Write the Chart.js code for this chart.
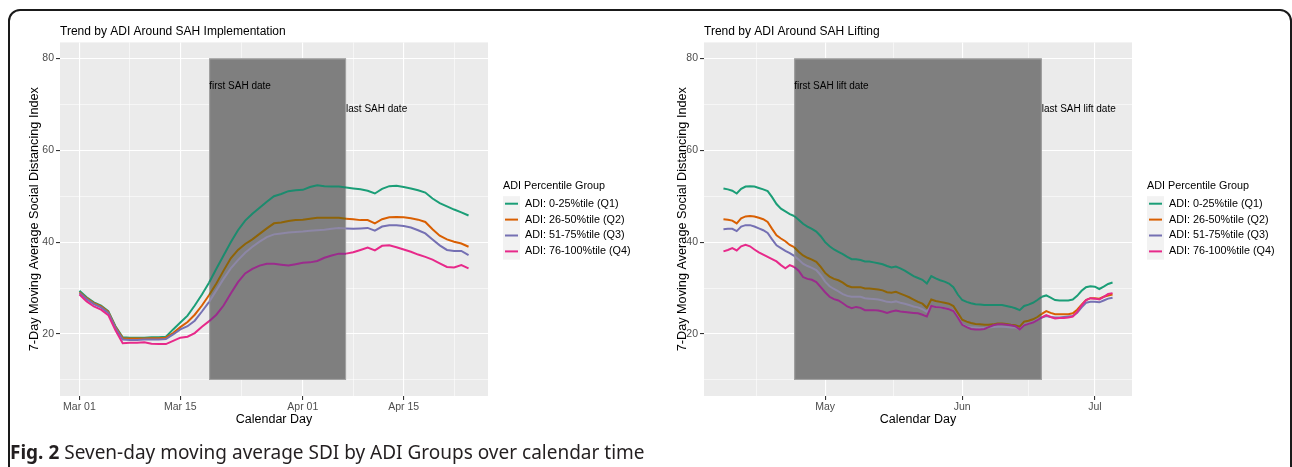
<!DOCTYPE html>
<html>
<head>
<meta charset="utf-8">
<script src="https://cdn.jsdelivr.net/npm/chart.js@4.4.1/dist/chart.umd.min.js"></script>
<style>
  body { margin: 0; background: #fff; width: 1292px; height: 467px; overflow: hidden; position: relative; }
  #frame { position: absolute; left: 8px; top: 9px; width: 1280px; height: 520px; border: 2px solid #1a1a1a; border-radius: 12px; }
  canvas { position: absolute; top: 0; }
  #left { left: 0; }
  #right { left: 644px; }
  #caption { position: absolute; left: 10px; top: 439px; line-height: 26px; font-family: 'Noto Sans', sans-serif; font-size: 19px; color: #231f20; white-space: nowrap; }
  #caption b { font-weight: bold; }
</style>
</head>
<body>
<div id="frame"></div>
<canvas id="left" width="648" height="440"></canvas>
<canvas id="right" width="648" height="440"></canvas>
<div id="caption"><b>Fig. 2</b> Seven-day moving average SDI by ADI Groups over calendar time</div>
<script>
// groups
const groupNames = ['ADI: 0-25%tile (Q1)', 'ADI: 26-50%tile (Q2)', 'ADI: 51-75%tile (Q3)', 'ADI: 76-100%tile (Q4)'];
const groupColors = ['#1B9E77', '#D95F02', '#7570B3', '#E7298A'];
const shadedColors = ['#1C8B6E', '#8E6408', '#8D87A6', '#9A2C8C'];

// implementation panel: one value per day starting Mar 01
const implQ1 = [29.4, 28.0, 26.9, 26.2, 25.0, 21.7, 19.3, 19.2, 19.2, 19.2, 19.3, 19.3, 19.4, 21.0, 22.5, 24.0, 26.2, 28.6, 31.2, 34.2,
  37.1, 40.0, 42.6, 44.7, 46.2, 47.5, 48.8, 50.0, 50.5, 51.1, 51.3, 51.4, 52.0, 52.4, 52.2, 52.1, 52.1, 51.9, 51.7, 51.5,
  51.2, 50.6, 51.6, 52.2, 52.3, 52.0, 51.7, 51.3, 50.8, 49.5, 48.5, 47.8, 47.1, 46.5, 45.8];
const implQ2 = [29.1, 27.8, 26.7, 26.0, 24.8, 21.5, 19.1, 19.0, 19.0, 19.0, 19.1, 19.1, 19.2, 20.2, 21.5, 22.6, 24.2, 26.2, 28.5, 31.0,
  33.8, 36.5, 38.3, 39.6, 40.6, 41.8, 43.0, 44.1, 44.3, 44.6, 44.8, 44.9, 45.1, 45.3, 45.3, 45.3, 45.3, 45.1, 45.0, 44.8,
  44.8, 44.1, 45.0, 45.4, 45.5, 45.4, 45.2, 44.9, 44.4, 42.8, 41.4, 40.6, 40.1, 39.7, 39.0];
const implQ3 = [28.9, 27.6, 26.5, 25.8, 24.6, 21.3, 18.8, 18.7, 18.7, 18.8, 18.8, 18.8, 18.9, 19.9, 21.0, 21.7, 22.9, 24.9, 27.0, 29.5,
  32.0, 34.3, 36.1, 37.7, 39.0, 40.1, 41.1, 41.7, 41.9, 42.1, 42.2, 42.3, 42.5, 42.6, 42.7, 42.9, 43.1, 43.0, 42.9, 43.0,
  43.1, 42.5, 43.4, 43.7, 43.7, 43.5, 43.2, 42.6, 41.9, 40.6, 39.3, 38.3, 38.1, 38.1, 37.2];
const implQ4 = [28.6, 27.1, 26.0, 25.3, 24.1, 20.8, 18.0, 18.1, 18.1, 18.2, 17.9, 17.8, 17.8, 18.5, 19.2, 19.4, 20.2, 21.6, 22.8, 24.2,
  26.2, 28.8, 31.3, 33.2, 34.2, 34.9, 35.3, 35.3, 35.1, 34.9, 35.2, 35.5, 35.6, 35.9, 36.6, 37.1, 37.5, 37.5, 37.8, 38.3,
  38.8, 38.2, 39.2, 39.3, 38.9, 38.4, 37.9, 37.3, 36.8, 36.2, 35.4, 34.6, 34.5, 35.0, 34.3];

// lifting panel: one value per day starting Apr 08
const liftQ1 = [51.7, 51.5, 51.2, 50.6, 51.6, 52.1, 52.2, 52.1, 51.8, 51.5, 51.1, 49.8, 48.3, 47.3, 46.7, 46.1, 45.7, 44.9, 44.0, 43.4,
  42.9, 42.3, 41.3, 40.0, 39.1, 38.4, 37.9, 37.4, 36.8, 36.3, 36.3, 36.1, 35.8, 35.8, 35.6, 35.4, 35.2, 34.8, 34.5, 34.7,
  34.3, 33.8, 33.2, 32.6, 32.2, 31.8, 31.0, 32.6, 32.1, 31.7, 31.4, 31.0, 30.2, 28.6, 27.4, 27.0, 26.7, 26.5, 26.4, 26.3,
  26.3, 26.3, 26.3, 26.3, 26.1, 25.9, 25.6, 25.2, 26.1, 26.4, 26.8, 27.4, 28.1, 28.4, 27.9, 27.4, 27.3, 27.3, 27.3, 27.5,
  28.3, 29.4, 30.2, 30.4, 30.3, 29.8, 30.3, 30.9, 31.2];
const liftQ2 = [45.0, 44.9, 44.7, 44.1, 45.2, 45.6, 45.7, 45.6, 45.3, 45.0, 44.4, 42.9, 41.5, 40.8, 40.2, 39.4, 38.9, 37.9, 37.1, 36.6,
  36.2, 35.7, 34.6, 33.3, 32.5, 32.0, 31.7, 31.2, 30.5, 30.2, 30.2, 30.2, 29.9, 29.9, 29.8, 29.7, 29.5, 29.1, 29.0, 29.2,
  28.8, 28.4, 28.0, 27.5, 27.0, 26.6, 25.7, 27.5, 27.2, 27.0, 26.8, 26.6, 26.1, 24.6, 23.1, 22.7, 22.4, 22.2, 22.1, 22.0,
  22.0, 22.1, 22.3, 22.3, 22.2, 22.0, 21.9, 21.6, 22.7, 22.9, 23.2, 23.7, 24.4, 25.0, 24.6, 24.3, 24.3, 24.3, 24.3, 24.5,
  25.3, 26.4, 27.4, 27.8, 27.8, 27.7, 28.1, 28.4, 28.6];
const liftQ3 = [42.8, 42.9, 42.9, 42.4, 43.4, 43.7, 43.7, 43.4, 43.0, 42.6, 42.0, 40.6, 39.3, 38.7, 38.1, 37.6, 37.0, 36.2, 35.3, 34.8,
  34.4, 33.9, 32.8, 31.4, 30.4, 29.8, 29.3, 28.7, 28.3, 28.1, 28.1, 28.1, 27.8, 27.7, 27.6, 27.5, 27.3, 27.0, 26.9, 27.1,
  26.8, 26.6, 26.3, 26.0, 25.8, 25.4, 24.8, 26.1, 25.9, 25.8, 25.6, 25.4, 25.1, 23.7, 22.1, 21.6, 21.4, 21.4, 21.3, 21.3,
  21.4, 21.5, 21.6, 21.6, 21.5, 21.4, 21.4, 21.0, 22.0, 22.3, 22.6, 23.1, 23.6, 23.9, 23.7, 23.6, 23.6, 23.7, 23.8, 23.9,
  24.6, 25.8, 26.8, 27.0, 27.0, 26.9, 27.3, 27.7, 27.9];
const liftQ4 = [38.0, 38.3, 38.7, 38.2, 39.1, 39.4, 39.1, 38.4, 37.8, 37.3, 36.8, 36.3, 35.8, 35.0, 34.3, 35.0, 34.6, 33.8, 32.4, 32.0,
  31.8, 31.3, 30.2, 29.1, 28.1, 27.6, 27.3, 26.7, 26.0, 25.6, 25.9, 25.7, 25.2, 25.2, 25.2, 25.1, 24.9, 24.6, 24.9, 25.1,
  24.9, 24.8, 24.7, 24.6, 24.5, 24.2, 23.8, 26.1, 25.9, 25.8, 25.6, 25.4, 25.0, 23.6, 22.0, 21.5, 21.1, 21.0, 21.0, 21.1,
  21.5, 21.9, 22.1, 22.1, 22.0, 21.9, 21.7, 21.0, 21.9, 22.2, 22.5, 23.0, 23.6, 24.1, 23.7, 23.4, 23.5, 23.5, 23.6, 23.8,
  24.8, 26.2, 27.4, 27.8, 27.7, 27.5, 28.1, 28.7, 28.9];

// tick labels (x in days from the first day of each panel)
const implTickDays = [0, 14, 31, 45];
const implTickLabels = ['Mar 01', 'Mar 15', 'Apr 01', 'Apr 15'];
const implMinorDays = [7, 22.5, 38, 52];
const liftTickDays = [23, 54, 84];
const liftTickLabels = ['May', 'Jun', 'Jul'];
const liftMinorDays = [7.5, 38.5, 69];
const yTicks = [20, 40, 60, 80];
const yMinor = [10, 30, 50, 70];

// shaded SAH windows
const implBand = [18, 37];   // Mar 19 - Apr 07
const liftBand = [16, 72];   // Apr 24 - Jun 19
const bandTop = 80, bandBottom = 10;
const bandLabelY = [74, 69];

Chart.defaults.font.family = "'Liberation Sans', Arial, sans-serif";

const sahBand = {
  id: 'sahBand',
  beforeDraw(chart) {
    const { ctx, chartArea: a } = chart;
    ctx.save();
    ctx.fillStyle = '#EBEBEB';
    ctx.fillRect(a.left, a.top, a.right - a.left, a.bottom - a.top);
    ctx.restore();
  },
  beforeDatasetsDraw(chart, args, opts) {
    const { ctx, scales: { x, y } } = chart;
    const x0 = x.getPixelForValue(opts.band[0]);
    const x1 = x.getPixelForValue(opts.band[1]);
    const y0 = y.getPixelForValue(bandTop);
    const y1 = y.getPixelForValue(bandBottom);
    ctx.save();
    ctx.fillStyle = '#7F7F7F';
    ctx.fillRect(x0, y0, x1 - x0, y1 - y0);
    ctx.strokeStyle = '#A3A3A3';
    ctx.lineWidth = 1;
    ctx.strokeRect(x0 + 0.5, y0 + 0.5, x1 - x0 - 1, y1 - y0 - 1);
    ctx.fillStyle = '#000';
    ctx.font = "10px 'Liberation Sans', Arial, sans-serif";
    ctx.textBaseline = 'middle';
    ctx.textAlign = 'left';
    ctx.fillText(opts.labels[0], x0, y.getPixelForValue(bandLabelY[0]));
    ctx.fillText(opts.labels[1], x1, y.getPixelForValue(bandLabelY[1]));
    ctx.restore();
  },
  afterDraw(chart) {
    // ggplot style legend to the right of the panel
    const { ctx, chartArea: a } = chart;
    const lx = a.right + 15;
    const mid = (a.top + a.bottom) / 2;
    ctx.save();
    ctx.font = "10.8px 'Liberation Sans', Arial, sans-serif";
    ctx.textBaseline = 'middle';
    ctx.textAlign = 'left';
    ctx.fillStyle = '#000';
    ctx.fillText('ADI Percentile Group', lx, mid - 33.5);
    ctx.fillStyle = '#F2F2F2';
    ctx.fillRect(lx, mid - 23, 17, 63.5);
    groupNames.forEach((name, g) => {
      const cy = mid - 15.5 + g * 15.9;
      ctx.strokeStyle = groupColors[g];
      ctx.lineWidth = 2;
      ctx.beginPath();
      ctx.moveTo(lx + 2, cy);
      ctx.lineTo(lx + 15, cy);
      ctx.stroke();
      ctx.fillStyle = '#000';
      ctx.fillText(name, lx + 22, cy);
    });
    ctx.restore();
  }
};

function gridOpts(major) {
  return {
    color: '#FFFFFF',
    lineWidth: c => (c.tick && major.includes(c.tick.value)) ? 1.1 : 0.55,
    drawTicks: true,
    tickLength: 4,
    tickWidth: 1.1,
    tickColor: c => (c.tick && major.includes(c.tick.value)) ? '#333333' : 'rgba(0,0,0,0)'
  };
}

function makeChart(id, p) {
  const datasets = groupNames.map((name, g) => ({
    label: name,
    data: p.series[g].map((v, i) => ({ x: i, y: v })),
    borderColor: groupColors[g],
    borderWidth: 2,
    pointRadius: 0,
    tension: 0,
    order: 4 - g,
    segment: {
      borderColor: c => (c.p0.parsed.x >= p.band[0] && c.p1.parsed.x <= p.band[1]) ? shadedColors[g] : groupColors[g]
    }
  }));
  const last = p.series[0].length - 1;
  const pad = last * 0.05;
  return new Chart(document.getElementById(id), {
    type: 'line',
    data: { datasets },
    options: {
      responsive: false,
      animation: false,
      layout: { padding: { left: 0, right: 160, top: 0, bottom: 0 } },
      plugins: {
        legend: { display: false },
        tooltip: { enabled: false },
        title: {
          display: true, text: p.title, align: 'start', fullSize: false, color: '#000',
          font: { size: 12, weight: 'normal' }, padding: { top: 24, bottom: 4 }
        },
        sahBand: { band: p.band, labels: p.bandLabels }
      },
      scales: {
        x: {
          type: 'linear',
          min: -pad,
          max: last + pad,
          afterBuildTicks: s => { s.ticks = p.tickDays.concat(p.minorDays).sort((a, b) => a - b).map(v => ({ value: v })); },
          afterFit: s => { s.height = 44; },
          ticks: {
            autoSkip: false, maxRotation: 0, minRotation: 0, padding: 1,
            color: '#4D4D4D', font: { size: 10.5 },
            callback: v => { const k = p.tickDays.indexOf(v); return k >= 0 ? p.tickLabels[k] : ''; }
          },
          grid: gridOpts(p.tickDays),
          border: { display: false },
          title: { display: true, text: 'Calendar Day', color: '#000', font: { size: 12.5 }, padding: { top: 0, bottom: 13 } }
        },
        y: {
          min: 6.5,
          max: 83.5,
          afterBuildTicks: s => { s.ticks = yMinor.concat(yTicks).sort((a, b) => a - b).map(v => ({ value: v })); },
          afterFit: s => { s.width = 60; },
          ticks: {
            padding: 2, color: '#4D4D4D', font: { size: 10.5 },
            callback: v => yTicks.includes(v) ? String(v) : ''
          },
          grid: gridOpts(yTicks),
          border: { display: false },
          title: {
            display: true, text: '7-Day Moving Average Social Distancing Index', color: '#000',
            font: { size: 12.7 }, padding: { top: p.yTitlePad, bottom: 0 }
          }
        }
      }
    },
    plugins: [sahBand]
  });
}

makeChart('left', {
  title: 'Trend by ADI Around SAH Implementation',
  series: [implQ1, implQ2, implQ3, implQ4],
  band: implBand,
  bandLabels: ['first SAH date', 'last SAH date'],
  tickDays: implTickDays, tickLabels: implTickLabels, minorDays: implMinorDays,
  yTitlePad: 27
});

makeChart('right', {
  title: 'Trend by ADI Around SAH Lifting',
  series: [liftQ1, liftQ2, liftQ3, liftQ4],
  band: liftBand,
  bandLabels: ['first SAH lift date', 'last SAH lift date'],
  tickDays: liftTickDays, tickLabels: liftTickLabels, minorDays: liftMinorDays,
  yTitlePad: 31
});
</script>
</body>
</html>
